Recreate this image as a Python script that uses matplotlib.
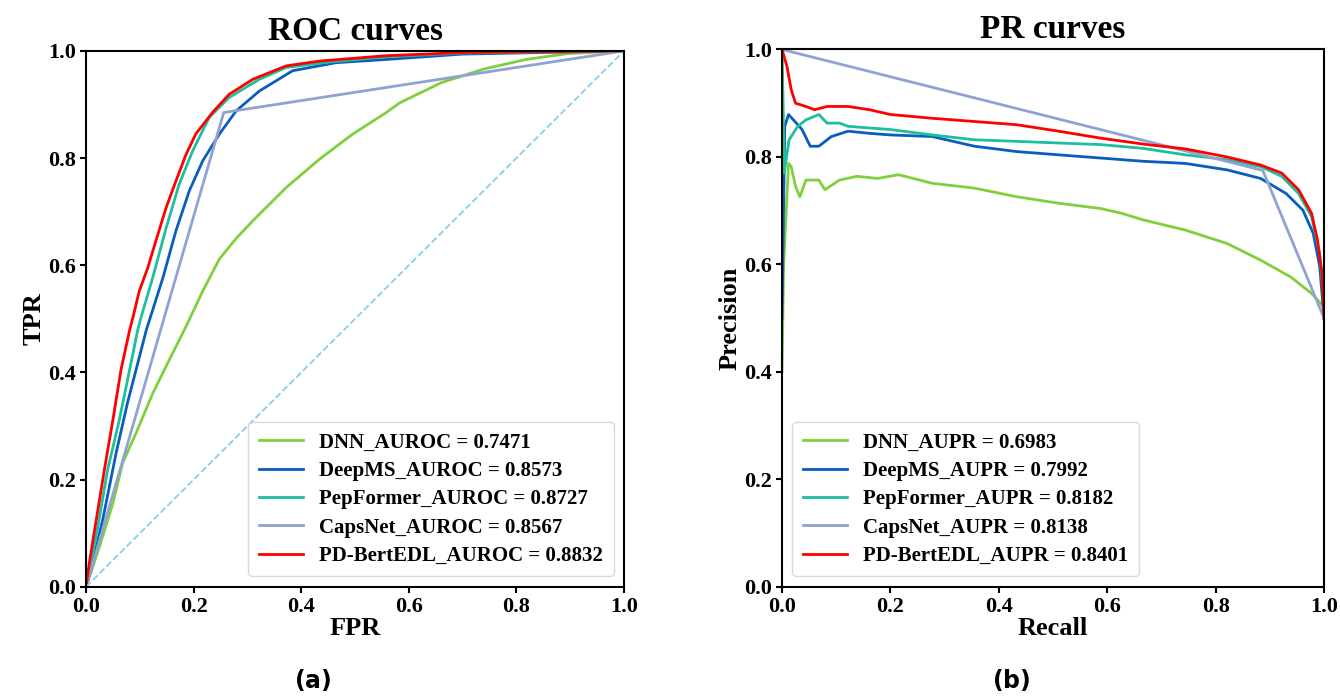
import matplotlib.pyplot as plt

plt.rcParams['font.family'] = 'Liberation Serif'
plt.rcParams['font.weight'] = 'bold'

# model names, colours and scores
models = ['DNN', 'DeepMS', 'PepFormer', 'CapsNet', 'PD-BertEDL']
colors = ['#7fd03c', '#0a5cbf', '#1cbf9e', '#8fa3d3', '#ff0000']
auroc = [0.7471, 0.8573, 0.8727, 0.8567, 0.8832]
aupr = [0.6983, 0.7992, 0.8182, 0.8138, 0.8401]

# ROC curves (FPR, TPR)
dnn_fpr = [0, 0.025, 0.05, 0.068, 0.093, 0.124, 0.155, 0.186, 0.217, 0.248, 0.279, 0.31,
           0.335, 0.372, 0.434, 0.496, 0.558, 0.583, 0.661, 0.739, 0.818, 0.896, 1.0]
dnn_tpr = [0, 0.075, 0.156, 0.231, 0.287, 0.361, 0.424, 0.486, 0.552, 0.612, 0.65, 0.683,
           0.708, 0.745, 0.798, 0.845, 0.885, 0.903, 0.941, 0.966, 0.984, 0.995, 1.0]
deepms_fpr = [0, 0.009, 0.031, 0.056, 0.077, 0.093, 0.112, 0.143, 0.167, 0.192, 0.217,
              0.248, 0.279, 0.322, 0.384, 0.465, 0.558, 0.7, 1.0]
deepms_tpr = [0, 0.031, 0.125, 0.25, 0.343, 0.405, 0.479, 0.577, 0.664, 0.739, 0.795,
              0.845, 0.888, 0.925, 0.963, 0.978, 0.984, 0.994, 1.0]
pepformer_fpr = [0, 0.022, 0.04, 0.062, 0.081, 0.096, 0.102, 0.124, 0.149, 0.173, 0.198,
                 0.229, 0.266, 0.322, 0.372, 0.45, 0.558, 0.7, 1.0]
pepformer_tpr = [0, 0.112, 0.218, 0.312, 0.405, 0.479, 0.502, 0.577, 0.67, 0.751, 0.813,
                 0.876, 0.913, 0.947, 0.969, 0.979, 0.989, 0.996, 1.0]
capsnet_fpr = [0, 0.256, 1.0]
capsnet_tpr = [0, 0.885, 1.0]
bert_fpr = [0, 0.006, 0.019, 0.034, 0.05, 0.065, 0.081, 0.087, 0.099, 0.115, 0.13, 0.149,
            0.167, 0.186, 0.204, 0.235, 0.266, 0.31, 0.372, 0.434, 0.558, 0.7, 1.0]
bert_tpr = [0, 0.044, 0.125, 0.218, 0.312, 0.405, 0.479, 0.502, 0.552, 0.596, 0.646, 0.708,
            0.757, 0.807, 0.845, 0.885, 0.919, 0.947, 0.972, 0.981, 0.991, 0.997, 1.0]

# PR curves (recall, precision)
dnn_rec = [0, 0.003, 0.012, 0.017, 0.025, 0.033, 0.044, 0.068, 0.079, 0.106, 0.138, 0.176,
           0.215, 0.277, 0.355, 0.433, 0.51, 0.588, 0.627, 0.666, 0.744, 0.821, 0.883,
           0.938, 0.977, 1.0]
dnn_prec = [0.4, 0.6, 0.788, 0.782, 0.745, 0.726, 0.757, 0.757, 0.739, 0.757, 0.764, 0.76,
            0.767, 0.751, 0.742, 0.726, 0.714, 0.704, 0.695, 0.683, 0.664, 0.639, 0.608,
            0.577, 0.546, 0.521]
deepms_rec = [0, 0.005, 0.012, 0.021, 0.037, 0.052, 0.068, 0.091, 0.122, 0.161, 0.2, 0.277,
              0.355, 0.433, 0.51, 0.588, 0.666, 0.744, 0.821, 0.883, 0.93, 0.961, 0.98,
              0.992, 1.0]
deepms_prec = [0.5, 0.857, 0.879, 0.869, 0.851, 0.82, 0.82, 0.838, 0.848, 0.844, 0.841,
               0.838, 0.82, 0.81, 0.804, 0.798, 0.792, 0.788, 0.776, 0.76, 0.732, 0.701,
               0.658, 0.596, 0.5]
pepformer_rec = [0, 0.002, 0.004, 0.013, 0.029, 0.044, 0.068, 0.083, 0.106, 0.122, 0.2,
                 0.277, 0.355, 0.433, 0.51, 0.588, 0.666, 0.744, 0.821, 0.883, 0.922,
                 0.953, 0.977, 0.992, 1.0, 1.0]
pepformer_prec = [1.0, 0.9, 0.77, 0.832, 0.857, 0.869, 0.879, 0.863, 0.863, 0.857, 0.851,
                  0.841, 0.832, 0.829, 0.826, 0.823, 0.816, 0.804, 0.795, 0.782, 0.764,
                  0.732, 0.689, 0.62, 0.533, 0.5]
capsnet_rec = [0, 0.887, 1.0]
capsnet_prec = [1.0, 0.775, 0.5]
bert_rec = [0, 0.009, 0.017, 0.025, 0.044, 0.06, 0.083, 0.122, 0.161, 0.2, 0.277, 0.355,
            0.433, 0.51, 0.588, 0.666, 0.744, 0.821, 0.883, 0.922, 0.953, 0.977, 0.988,
            0.996, 1.0]
bert_prec = [1.0, 0.969, 0.925, 0.9, 0.894, 0.888, 0.894, 0.894, 0.888, 0.879, 0.872, 0.866,
             0.86, 0.848, 0.835, 0.824, 0.815, 0.8, 0.785, 0.77, 0.739, 0.695, 0.645,
             0.583, 0.5]

roc = [(dnn_fpr, dnn_tpr), (deepms_fpr, deepms_tpr), (pepformer_fpr, pepformer_tpr),
       (capsnet_fpr, capsnet_tpr), (bert_fpr, bert_tpr)]
pr = [(dnn_rec, dnn_prec), (deepms_rec, deepms_prec), (pepformer_rec, pepformer_prec),
      (capsnet_rec, capsnet_prec), (bert_rec, bert_prec)]

fig = plt.figure(figsize=(13.4, 6.97), dpi=100)
ax1 = fig.add_axes([0.0642, 0.158, 0.4015, 0.769])
ax2 = fig.add_axes([0.5836, 0.158, 0.4045, 0.771])

for i, (x, y) in enumerate(roc):
    ax1.plot(x, y, color=colors[i], lw=2,
             label='%s_AUROC = %.4f' % (models[i], auroc[i]))
ax1.plot([0, 1], [0, 1], color='#87ceeb', lw=1.3, ls='--')

for i, (x, y) in enumerate(pr):
    ax2.plot(x, y, color=colors[i], lw=2,
             label='%s_AUPR = %.4f' % (models[i], aupr[i]))

for ax, title, xl, yl, loc in [(ax1, 'ROC curves', 'FPR', 'TPR', 'lower right'),
                               (ax2, 'PR curves', 'Recall', 'Precision', 'lower left')]:
    ax.set_xlim(0, 1)
    ax.set_ylim(0, 1)
    ax.set_title(title, fontsize=24, fontweight='bold', pad=8)
    ax.set_xlabel(xl, fontsize=19, fontweight='bold', labelpad=0)
    ax.set_ylabel(yl, fontsize=19, fontweight='bold', labelpad=2)
    ax.tick_params(labelsize=16, width=1.5, length=4, pad=3)
    for lab in ax.get_xticklabels() + ax.get_yticklabels():
        lab.set_fontweight('bold')
    for sp in ax.spines.values():
        sp.set_linewidth(1.5)
    ax.legend(loc=loc, prop={'size': 15, 'weight': 'bold'}, handlelength=2.1,
              borderpad=0.5, labelspacing=0.4, fancybox=True, edgecolor='#d0d0d0')

fig.text(0.2336, 0.013, '($\\mathbf{a}$)', ha='center', va='baseline', fontsize=17,
         family='DejaVu Sans')
fig.text(0.7545, 0.013, '($\\mathbf{b}$)', ha='center', va='baseline', fontsize=17,
         family='DejaVu Sans')

plt.savefig('out.png')
